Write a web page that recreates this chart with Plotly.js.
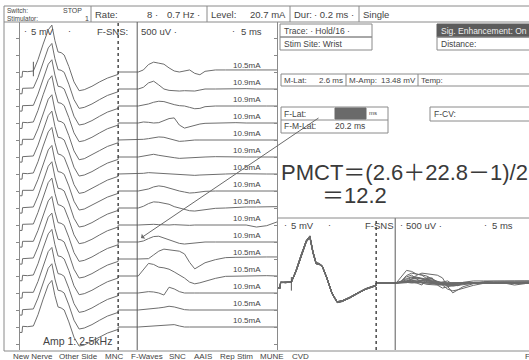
<!DOCTYPE html>
<html>
<head>
<meta charset="utf-8">
<script src="https://cdn.plot.ly/plotly-3.0.1.min.js"></script>
<style>
  html, body { margin: 0; padding: 0; background: #fff; }
  #chart { width: 529px; height: 360px; }
</style>
</head>
<body>
<div id="chart"></div>
<script>
// ---- Recording settings ----
const fSnsMs = 19.1;   // sensitivity switch cursor (ms)
const fLatMs = 22.8;   // F-wave latency cursor (ms)
const mLatMs = 2.6;    // M-wave onset latency (ms)
const mSensMv = 5;     // 5 mV/div before the switch
const fSensMv = 0.5;   // 500 uV/div after the switch

// Stimulus intensity printed beside each sweep (mA)
const stimMa = [10.5, 10.9, 10.9, 10.9, 10.9, 10.9, 10.5, 10.9, 10.5, 10.9, 10.9, 10.5, 10.5, 10.9, 10.5, 10.5];

// M-response sample times (ms) and amplitudes (mV), one array per sweep
const mTimes = [0, 0.4, 0.5, 1.5, 2.6, 3.5, 4.5, 5.5, 6.2, 6.8, 7.4, 8.0, 8.6, 9.5, 10.5, 11.5, 12.5, 14, 15.5, 17, 19.1];
const mWave01 = [-1.5,-1.5,0.2,0.1,0.3,3.6,8.2,12.4,13.8,9.2,5.9,5.7,5.0,1.6,-2.9,-5.5,-5.2,-4.2,-2.9,-1.8,-0.7];
const mWave02 = [-1.4,-1.4,0.2,0.2,0.3,3.4,7.9,12.1,13.4,8.9,5.7,5.5,4.9,1.4,-3.1,-5.7,-5.4,-4.4,-3.1,-1.9,-0.8];
const mWave03 = [-1.5,-1.5,0.1,0.1,0.2,3.5,8.1,12.3,13.6,9.1,5.8,5.6,5.0,1.5,-3.0,-5.6,-5.3,-4.3,-3.0,-1.8,-0.7];
const mWave04 = [-1.6,-1.6,0.2,0.1,0.3,3.7,8.3,12.5,13.9,9.3,6.0,5.8,5.1,1.6,-2.9,-5.5,-5.2,-4.2,-2.9,-1.7,-0.6];
const mWave05 = [-1.4,-1.4,0.2,0.1,0.2,3.3,7.8,12.0,13.3,8.8,5.6,5.4,4.8,1.3,-3.2,-5.8,-5.5,-4.4,-3.1,-1.9,-0.8];
const mWave06 = [-1.5,-1.5,0.1,0.2,0.3,3.5,8.0,12.2,13.5,9.0,5.8,5.6,5.0,1.5,-3.0,-5.6,-5.3,-4.3,-3.0,-1.8,-0.7];
const mWave07 = [-1.5,-1.5,0.2,0.1,0.3,3.6,8.2,12.4,13.7,9.2,5.9,5.6,4.9,1.4,-3.1,-5.7,-5.4,-4.3,-3.0,-1.8,-0.7];
const mWave08 = [-1.4,-1.4,0.2,0.1,0.2,3.4,8.0,12.1,13.4,8.9,5.7,5.5,4.9,1.5,-3.0,-5.6,-5.3,-4.2,-2.9,-1.8,-0.7];
const mWave09 = [-1.5,-1.5,0.1,0.1,0.3,3.5,8.1,12.3,13.6,9.1,5.8,5.6,5.0,1.5,-3.0,-5.6,-5.3,-4.3,-3.0,-1.8,-0.7];
const mWave10 = [-1.6,-1.6,0.2,0.2,0.3,3.7,8.3,12.5,13.8,9.3,6.0,5.7,5.1,1.6,-2.9,-5.5,-5.2,-4.2,-2.9,-1.7,-0.6];
const mWave11 = [-1.5,-1.5,0.2,0.1,0.2,3.4,7.9,12.1,13.4,8.9,5.7,5.5,4.9,1.4,-3.1,-5.7,-5.4,-4.4,-3.1,-1.9,-0.8];
const mWave12 = [-1.5,-1.5,0.1,0.1,0.3,3.5,8.1,12.3,13.5,9.0,5.8,5.6,5.0,1.5,-3.0,-5.6,-5.3,-4.3,-3.0,-1.8,-0.7];
const mWave13 = [-1.4,-1.4,0.2,0.1,0.3,3.6,8.2,12.4,13.7,9.2,5.9,5.7,5.0,1.6,-2.9,-5.5,-5.2,-4.2,-2.9,-1.7,-0.6];
const mWave14 = [-1.5,-1.5,0.2,0.2,0.2,3.4,8.0,12.2,13.4,8.9,5.7,5.5,4.9,1.4,-3.1,-5.7,-5.4,-4.4,-3.1,-1.9,-0.8];
const mWave15 = [-1.5,-1.5,0.1,0.1,0.3,3.5,8.1,12.3,13.6,9.1,5.8,5.6,5.0,1.5,-3.0,-5.6,-5.3,-4.3,-3.0,-1.8,-0.7];
const mWave16 = [-1.6,-1.6,0.2,0.1,0.3,3.6,8.2,12.4,13.7,9.2,5.9,5.6,5.0,1.5,-3.0,-5.6,-5.3,-4.2,-2.9,-1.8,-0.7];

// F-response sample times (ms) and amplitudes (uV), referenced to baseline after the switch
const fTimes = [19.1, 23, 24, 25, 26, 27, 28, 29, 30, 31, 32, 33, 34, 35, 36, 38, 40, 42, 44, 46, 48, 50];
const fWave01 = [0, 0, 60, 220, 290, 260, 230, 120, 30, 0, 40, 60, -40, -80, 20, 60, 60, 50, 60, 60, 50, 60];
const fWave02 = [0, 0, 50, 180, 230, 120, 0, -40, -60, -60, -50, -50, -60, -30, 0, 0, 10, 0, 10, 0, 10, 0];
const fWave03 = [0, 0, 20, 60, 110, 140, 130, 80, 40, 10, 0, -40, -80, -70, -20, 0, 10, 0, 0, 10, 0, 0];
const fWave04 = [0, 0, 30, 20, 0, 10, 60, 130, 150, -60, -150, -110, -60, -30, -10, 0, 0, 10, 0, 0, 10, 0];
const fWave05 = [0, 0, 20, 40, 70, 90, 80, 40, 0, -40, -30, -10, 0, 0, 0, 0, 10, 0, 0, 0, 0, 0];
const fWave06 = [0, 0, 30, 70, 80, 50, 20, 0, -20, -40, -30, -20, 0, 0, 0, 10, 0, 0, 0, 0, 10, 0];
const fWave07 = [0, 0, 20, 40, 30, 10, 0, 0, -10, -20, -30, -40, -40, -30, -20, 0, 0, 10, 0, 0, 0, 0];
const fWave08 = [0, 0, 20, 60, 120, 150, 130, 80, 30, 0, -30, -60, -50, -30, -10, 0, 0, 0, 10, 0, 0, 0];
const fWave09 = [0, 0, 50, 130, 180, 170, 150, 110, 40, 0, -40, -80, -90, -70, -40, -10, 0, 20, 30, 30, 40, 40];
const fWave10 = [0, 0, 10, 20, 20, 10, 0, 0, 10, 0, 0, -10, 0, 0, 0, 0, 10, 0, 0, -60, -20, 90];
const fWave11 = [0, 0, 30, 100, 160, 170, 120, 60, 0, -40, -60, -40, -20, 0, 0, 0, 0, 10, 0, 0, 0, 0];
const fWave12 = [0, 0, 0, 10, 120, 230, 290, 270, 250, 230, 150, -100, -290, -200, -110, -20, 40, 50, 60, 60, 60, 60];
const fWave13 = [0, 0, 200, 370, 340, 260, 240, 200, 120, 40, -60, -180, -230, -200, -150, -70, -10, 0, 10, 0, 10, 0];
const fWave14 = [0, 0, 20, 40, 30, 0, -60, 170, 120, 40, 0, 10, 0, 0, 0, 0, 10, 0, 0, 0, 0, 0];
const fWave15 = [0, 0, 10, 30, 50, 60, 80, 110, 90, 40, 10, 0, 0, 0, 0, 0, 0, 0, 0, 0, 0, 0];
const fWave16 = [0, 0, 10, 20, 40, 50, 60, 80, 70, 30, 0, 0, 0, 0, 0, 0, 10, 0, 0, 0, 0, 0];

const mWaves = [mWave01, mWave02, mWave03, mWave04, mWave05, mWave06, mWave07, mWave08,
                mWave09, mWave10, mWave11, mWave12, mWave13, mWave14, mWave15, mWave16];
const fWaves = [fWave01, fWave02, fWave03, fWave04, fWave05, fWave06, fWave07, fWave08,
                fWave09, fWave10, fWave11, fWave12, fWave13, fWave14, fWave15, fWave16];

// ---- Page geometry (pixels) ----
const W = 529, H = 360;
const ROW = 17;                         // one vertical division
const FONT = '"Liberation Sans", Arial, sans-serif';
const INK = '#444';
const RULE = '#8a8a8a';
const px = x => x / W;
const py = y => 1 - y / H;

// Sweep i in division units: M part at 5 mV/div, F part at 500 uV/div
function sweep(i, offset) {
  const x = [], y = [];
  mTimes.forEach((t, k) => { x.push(t); y.push(offset + mWaves[i][k] / mSensMv); });
  fTimes.forEach((t, k) => { x.push(t); y.push(offset + fWaves[i][k] / 1000 / fSensMv); });
  return { x, y };
}

const data = [];
// stacked raster (left)
mWaves.forEach((_, i) => {
  const s = sweep(i, -i);
  data.push({ type: 'scatter', mode: 'lines', x: s.x, y: s.y, xaxis: 'x', yaxis: 'y',
              line: { color: '#6e6e6e', width: 1 }, hoverinfo: 'skip' });
});
// superimposed sweeps (lower right)
mWaves.forEach((_, i) => {
  const s = sweep(i, 0);
  data.push({ type: 'scatter', mode: 'lines', x: s.x, y: s.y, xaxis: 'x2', yaxis: 'y2',
              line: { color: '#6a6a6a', width: 1 }, hoverinfo: 'skip' });
});
// carrier for the inner-tick right border of the raster
data.push({ type: 'scatter', mode: 'markers', x: [0], y: [0], xaxis: 'x', yaxis: 'y3',
            marker: { opacity: 0 }, hoverinfo: 'skip' });

// raster frame
const L = { x0: 20, x1: 277, top: 22, bottom: 350, base: 72 };
const B = { x0: 278, top: 218, bottom: 350, base: 283 };
const msPerPx = 50 / (L.x1 - L.x0);

const rasterY = {
  domain: [py(L.bottom), py(L.top)],
  range: [-(L.bottom - L.base) / ROW, (L.base - L.top) / ROW],
  showgrid: false, zeroline: false, showticklabels: false,
  tickmode: 'linear', tick0: 0, dtick: 1, ticklen: 3, tickcolor: RULE, tickwidth: 1
};

const layout = {
  width: W, height: H,
  margin: { l: 0, r: 0, t: 0, b: 0 },
  paper_bgcolor: '#fff', plot_bgcolor: 'rgba(0,0,0,0)',
  showlegend: false,
  xaxis: { domain: [px(L.x0), px(L.x1)], range: [0, 50], showgrid: false, zeroline: false,
           showticklabels: false, ticks: '', showline: false, anchor: 'y' },
  yaxis: Object.assign({}, rasterY, { anchor: 'x', ticks: 'outside', showline: true,
           linecolor: RULE, linewidth: 1 }),
  yaxis3: Object.assign({}, rasterY, { overlaying: 'y', side: 'right', anchor: 'x',
           ticks: 'inside', showline: true, linecolor: RULE, linewidth: 1 }),
  xaxis2: { domain: [px(B.x0), 1], range: [0, (W - B.x0) * msPerPx], anchor: 'y2',
            showgrid: false, zeroline: false, showticklabels: false, ticks: '', showline: false },
  yaxis2: { domain: [py(B.bottom), py(B.top)],
            range: [-(B.bottom - B.base) / ROW, (B.base - B.top) / ROW], anchor: 'x2',
            showgrid: false, zeroline: false, showticklabels: false, ticks: '', showline: false },
  shapes: [],
  annotations: []
};

const S = layout.shapes, A = layout.annotations;
function seg(x0, y0, x1, y1, color, width, dash) {
  S.push({ type: 'line', xref: 'paper', yref: 'paper', x0: px(x0), y0: py(y0), x1: px(x1), y1: py(y1),
           line: { color: color || RULE, width: width || 1, dash: dash || 'solid' } });
}
function rect(x0, y0, x1, y1, fill, edge) {
  S.push({ type: 'rect', xref: 'paper', yref: 'paper', x0: px(x0), y0: py(y0), x1: px(x1), y1: py(y1),
           line: { color: edge || RULE, width: 1 }, fillcolor: fill || 'rgba(0,0,0,0)' });
}
function txt(x, y, text, size, opt) {
  opt = opt || {};
  A.push({ xref: 'paper', yref: 'paper', x: px(x), y: py(y), text: text, showarrow: false,
           xanchor: opt.anchor || 'left', yanchor: 'middle', borderpad: 0,
           font: { family: opt.family || FONT, size: size, color: opt.color || INK } });
}

// window frame and header strip
seg(4, 6, W, 6);
seg(4, 6, 4, 351);
seg(4, 22, W, 22);
seg(4, 351, W, 351);
[91, 207, 290, 359].forEach(x => seg(x, 6, x, 22));

txt(6, 10, 'Switch:', 6.5);
txt(6, 18, 'Stimulator:', 6.5);
txt(62, 10, 'STOP', 7);
txt(84, 18, '1', 7);
txt(94, 14.5, 'Rate:', 9.5);
txt(146, 14.5, '8 ·', 9.5);
txt(166, 14.5, '0.7 Hz ·', 9.5);
txt(210, 14.5, 'Level:', 9.5);
txt(287, 14.5, '20.7 mA', 9.5, { anchor: 'right' });
txt(293, 14.5, 'Dur:', 9.5);
txt(313, 14.5, '· 0.2 ms ·', 9.5);
txt(362, 14.5, 'Single', 9.5);

// cursors on the raster and on the superimposed panel
[['x', 'y'], ['x2', 'y2']].forEach(([xr, yr]) => {
  S.push({ type: 'line', xref: xr, yref: yr + ' domain', x0: fSnsMs, x1: fSnsMs, y0: 0, y1: 1,
           line: { color: '#4a4a4a', width: 1.5, dash: 'dot' } });
  S.push({ type: 'line', xref: xr, yref: yr + ' domain', x0: fLatMs, x1: fLatMs, y0: 0, y1: 1,
           line: { color: '#5a5a5a', width: 1 } });
});
// M-latency markers
S.push({ type: 'line', xref: 'x', yref: 'y', x0: mLatMs, x1: mLatMs, y0: 0.6, y1: -0.25,
         line: { color: '#5a5a5a', width: 1 } });
S.push({ type: 'line', xref: 'x2', yref: 'y2', x0: mLatMs, x1: mLatMs, y0: 0.35, y1: -0.45,
         line: { color: '#5a5a5a', width: 1 } });

// raster header
txt(23, 31, '·', 9);
txt(30, 31, '5 mV', 9.5);
txt(67, 31, '·', 9);
txt(96, 31, 'F-SNS:', 9.5);
txt(140, 31, '500 uV ·', 9.5);
txt(231, 31, '·', 9);
txt(240, 31, '5 ms', 9.5);

// stimulus labels beside each sweep
stimMa.forEach((v, i) => {
  A.push({ xref: 'x', yref: 'y', x: (263 - L.x0) * msPerPx, y: -i + 7 / ROW,
           text: v.toFixed(1) + 'mA', showarrow: false, xanchor: 'right', yanchor: 'middle',
           font: { family: FONT, size: 8, color: INK } });
});
txt(42, 341, 'Amp 1: 2-5kHz', 10.5);

// trace / site boxes
rect(280, 24, 372, 37);
rect(280, 37, 372, 50);
rect(437, 24, W + 2, 37, '#5c5c5c', '#5c5c5c');
rect(437, 37, W + 2, 50);
txt(283, 30.5, 'Trace: · Hold/16 ·', 8.5);
txt(283, 43.5, 'Stim Site: Wrist', 8.5);
txt(440, 30.5, 'Sig. Enhancement: On', 8.5, { color: '#eeeeee' });
txt(440, 43.5, 'Distance:', 8.5);

// M-wave results row
rect(281, 74, W + 2, 86);
seg(346, 74, 346, 86);
seg(418, 74, 418, 86);
txt(283, 80, 'M-Lat:', 8);
txt(344, 80, '2.6 ms', 8, { anchor: 'right' });
txt(348, 80, 'M-Amp:', 8);
txt(417, 80, '13.48 mV', 8, { anchor: 'right' });
txt(420, 80, 'Temp:', 8);

// F-wave results
rect(281, 107, 388, 133);
seg(281, 120, 388, 120);
rect(335, 108, 366, 119, '#6a6a6a', '#6a6a6a');
txt(283, 113.5, 'F-Lat:', 8.5);
txt(368, 112.5, 'ms', 6);
txt(283, 126.5, 'F-M-Lat:', 8.5);
txt(366, 126.5, '20.2 ms', 8.5, { anchor: 'right' });
rect(430, 107, W + 2, 121);
txt(433, 114, 'F-CV:', 8.5);

// arrow from the F-latency box to the selected sweep
A.push({ xref: 'paper', yref: 'paper', x: px(141), y: py(238), ax: 179, ay: -121,
         axref: 'pixel', ayref: 'pixel', text: '', showarrow: true,
         arrowhead: 1, arrowsize: 1, arrowwidth: 1, arrowcolor: '#6a6a6a' });

// PMCT calculation
const CALC = '"Liberation Sans", "Noto Sans CJK JP", sans-serif';
txt(280, 172, 'PMCT＝(2.6＋22.8－1)/2', 22, { family: CALC, color: '#3a3a3a' });
txt(321, 196, '＝12.2', 22, { family: CALC, color: '#3a3a3a' });

// superimposed panel header
seg(B.x0, B.top, W, B.top);
txt(283, 225, '·', 9);
txt(290, 225, '5 mV', 9.5);
txt(327, 225, '·', 9);
txt(364, 225, 'F-SNS', 9.5);
txt(399, 225, '·', 9);
txt(405, 225, '500 uV ·', 9.5);
txt(483, 225, '·', 9);
txt(491, 225, '5 ms', 9.5);

// test menu along the bottom
[['New Nerve', 12], ['Other Side', 58], ['MNC', 104], ['F-Waves', 130], ['SNC', 168],
 ['AAIS', 193], ['Rep Stim', 219], ['MUNE', 259], ['CVD', 291]].forEach(([t, x]) => txt(x, 356, t, 8));
txt(524, 356, 'F', 8);

Plotly.newPlot('chart', data, layout, { staticPlot: true, displayModeBar: false });
</script>
</body>
</html>
